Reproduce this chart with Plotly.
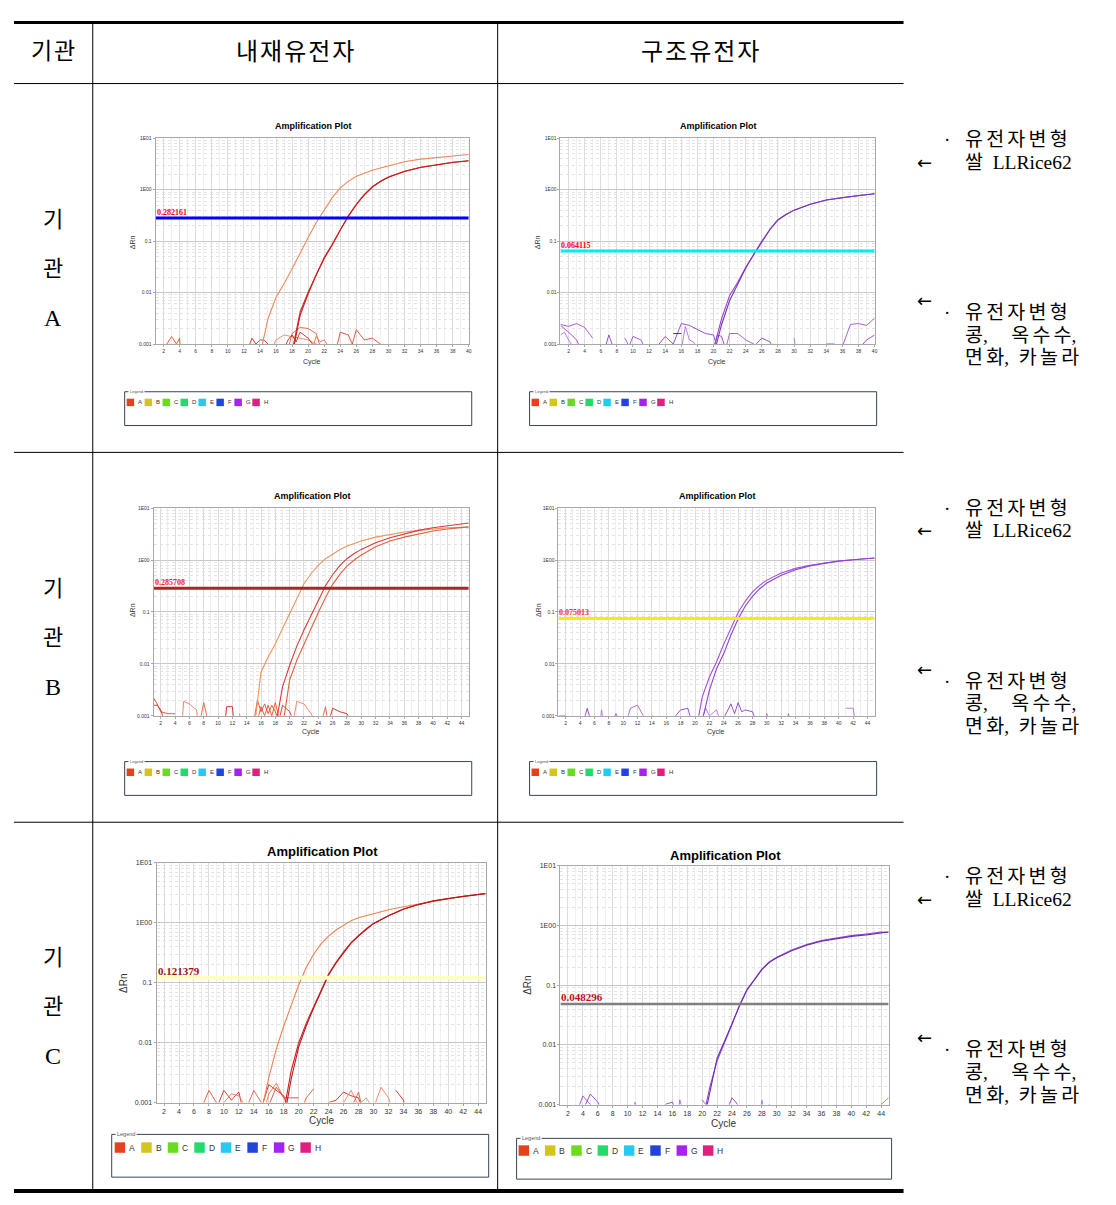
import math
import plotly.graph_objects as go

W, H = 1116, 1205

# ------------------------------------------------------------------ data
# thresholds (text labels in the plots)
A_endo_thr, A_struct_thr = 0.282161, 0.064115
B_endo_thr, B_struct_thr = 0.285708, 0.075013
C_endo_thr, C_struct_thr = 0.121379, 0.048296

# 기관 A - 내재유전자 (cycles 1-40)
A_endo_early_cyc = [14, 15, 16, 17, 18, 19, 20, 21, 22, 23, 24, 25, 26, 27, 28, 29, 30, 32, 34, 36, 38, 40]
A_endo_early_val = [0.0006, 0.0031, 0.0081, 0.0148, 0.029, 0.060, 0.117, 0.228, 0.41, 0.70, 1.08, 1.45,
                    1.82, 2.10, 2.38, 2.63, 2.92, 3.50, 3.93, 4.24, 4.56, 4.84]
A_endo_late_cyc = [18, 19, 20, 21, 22, 23, 24, 25, 26, 27, 28, 29, 30, 32, 34, 36, 38, 40]
A_endo_late1_val = [0.0007, 0.0042, 0.0102, 0.023, 0.048, 0.087, 0.17, 0.31, 0.52, 0.81, 1.14, 1.46,
                    1.77, 2.28, 2.72, 3.06, 3.40, 3.66]
A_endo_late2_val = [0.0006, 0.0036, 0.0095, 0.022, 0.046, 0.084, 0.165, 0.30, 0.51, 0.79, 1.12, 1.44,
                    1.75, 2.26, 2.70, 3.05, 3.38, 3.64]
# 기관 A - 구조유전자
A_struct_cyc = [20, 21, 22, 23, 24, 25, 26, 27, 28, 29, 30, 32, 34, 36, 38, 40]
A_struct1_val = [0.0008, 0.0031, 0.0088, 0.0158, 0.031, 0.056, 0.10, 0.17, 0.26, 0.33, 0.40, 0.52,
                 0.63, 0.70, 0.77, 0.83]
A_struct2_val = [0.0006, 0.0024, 0.0070, 0.0145, 0.030, 0.055, 0.099, 0.168, 0.258, 0.33, 0.40, 0.52,
                 0.63, 0.70, 0.77, 0.83]

# 기관 B - 내재유전자 (cycles 1-45)
B_endo_early_cyc = [15, 16, 17, 18, 19, 20, 21, 22, 23, 24, 25, 26, 27, 28, 30, 32, 34, 36, 38, 40, 42, 45]
B_endo_early_val = [0.0005, 0.0070, 0.0136, 0.0245, 0.048, 0.093, 0.18, 0.35, 0.55, 0.79, 1.06, 1.32,
                    1.58, 1.86, 2.32, 2.76, 3.12, 3.45, 3.72, 3.98, 4.19, 4.30]
B_endo_mid_cyc = [18, 19, 20, 21, 22, 23, 24, 25, 26, 27, 28, 29, 30, 32, 34, 36, 38, 40, 42, 45]
B_endo_mid_val = [0.0006, 0.0036, 0.0094, 0.022, 0.045, 0.088, 0.165, 0.32, 0.52, 0.78, 1.06, 1.33,
                  1.60, 2.15, 2.69, 3.20, 3.72, 4.19, 4.58, 5.15]
B_endo_late_cyc = [19, 20, 21, 22, 23, 24, 25, 26, 27, 28, 29, 30, 32, 34, 36, 38, 40, 42, 45]
B_endo_late_val = [0.0006, 0.0049, 0.0118, 0.0245, 0.051, 0.098, 0.19, 0.34, 0.53, 0.76, 1.00, 1.25,
                   1.80, 2.32, 2.76, 3.20, 3.61, 3.95, 4.35]
# 기관 B - 구조유전자
B_struct_cyc = [20, 21, 22, 23, 24, 25, 26, 27, 28, 29, 30, 32, 34, 36, 38, 40, 42, 45]
B_struct1_val = [0.0004, 0.0023, 0.0056, 0.011, 0.024, 0.047, 0.098, 0.162, 0.243, 0.325, 0.41, 0.56,
                 0.69, 0.79, 0.875, 0.955, 1.01, 1.09]
B_struct2_val = [0.0003, 0.0008, 0.0031, 0.0081, 0.0158, 0.036, 0.073, 0.13, 0.20, 0.28, 0.36, 0.51,
                 0.65, 0.77, 0.86, 0.95, 1.01, 1.09]

# 기관 C - 내재유전자 (cycles 1-45)
C_endo_early_cyc = [15, 16, 17, 18, 19, 20, 21, 22, 23, 24, 25, 26, 27, 28, 30, 32, 34, 36, 38, 40, 42, 45]
C_endo_early_val = [0.0007, 0.0026, 0.0078, 0.019, 0.042, 0.092, 0.18, 0.30, 0.45, 0.60, 0.76, 0.92,
                    1.09, 1.22, 1.44, 1.66, 1.86, 2.06, 2.31, 2.57, 2.79, 3.10]
C_endo_late_cyc = [18, 19, 20, 21, 22, 23, 24, 25, 26, 27, 28, 29, 30, 32, 34, 36, 38, 40, 42, 45]
C_endo_late1_val = [0.0007, 0.0034, 0.010, 0.021, 0.040, 0.075, 0.14, 0.22, 0.33, 0.47, 0.62, 0.79,
                    0.98, 1.32, 1.70, 2.03, 2.33, 2.57, 2.79, 3.10]
C_endo_late2_val = [0.0005, 0.0025, 0.0085, 0.019, 0.038, 0.072, 0.135, 0.215, 0.32, 0.46, 0.61, 0.78,
                    0.97, 1.31, 1.69, 2.02, 2.32, 2.56, 2.78, 3.08]
# 기관 C - 구조유전자
C_struct_cyc = [20, 21, 22, 23, 24, 25, 26, 27, 28, 29, 30, 32, 34, 36, 38, 40, 42, 44, 45]
C_struct1_val = [0.0005, 0.0019, 0.0054, 0.0107, 0.022, 0.046, 0.085, 0.125, 0.186, 0.245, 0.295, 0.39,
                 0.48, 0.56, 0.62, 0.68, 0.725, 0.78, 0.77]
C_struct2_val = [0.0004, 0.0016, 0.0060, 0.0115, 0.023, 0.045, 0.083, 0.122, 0.183, 0.243, 0.29, 0.38,
                 0.47, 0.55, 0.61, 0.66, 0.70, 0.76, 0.78]

# baseline noise segments (cycle list, ΔRn list)
A_endo_noise = [
    ([2, 3, 3.6, 4, 4.1], [0.0008, 0.0014, 0.0010, 0.0013, 0.0006]),
    ([12.5, 13, 13.5, 14, 14.5, 15, 15.5], [0.0008, 0.0013, 0.0010, 0.0012, 0.0012, 0.0010, 0.0007]),
    ([15.5, 16, 17, 18, 19, 20, 21, 22], [0.0008, 0.0012, 0.0015, 0.0014, 0.0013, 0.0012, 0.0010, 0.0007]),
    ([17.5, 18, 19, 20, 21, 21.5], [0.0008, 0.0016, 0.0021, 0.0020, 0.0016, 0.0009]),
    ([17, 17.5, 18, 18.5, 19, 20, 21], [0.0008, 0.0012, 0.0015, 0.0011, 0.0017, 0.0013, 0.0008]),
    ([20.5, 21, 21.5, 22, 23], [0.0008, 0.0014, 0.0011, 0.0012, 0.0007]),
    ([23.5, 24, 25, 25.5, 26, 27, 28, 29], [0.0008, 0.0017, 0.0015, 0.0010, 0.0019, 0.0012, 0.0013, 0.0010]),
]
A_struct_noise = [
    ([1, 2, 3, 4, 5], [0.0024, 0.0022, 0.0025, 0.0021, 0.0013]),
    ([1, 2, 3, 3.5], [0.0023, 0.0017, 0.0012, 0.0008]),
    ([1, 1.5, 2, 3], [0.0015, 0.0017, 0.0012, 0.0007]),
    ([6.5, 7, 7.5], [0.0008, 0.0015, 0.0009]),
    ([9, 9.5, 10, 11, 11.5], [0.0013, 0.0009, 0.0014, 0.0012, 0.0008]),
    ([13, 14, 15, 16, 17, 18, 19, 20, 20.5], [0.0009, 0.0014, 0.0010, 0.0025, 0.0023, 0.0019, 0.0016, 0.0015, 0.0008]),
    ([16, 16.5, 17, 17.5, 18], [0.0008, 0.0022, 0.0012, 0.0011, 0.0008]),
    ([20, 20.5, 21, 21.5], [0.0008, 0.0015, 0.0014, 0.0008]),
    ([21.5, 22, 23, 24, 25, 25.5], [0.0008, 0.0016, 0.0016, 0.0012, 0.0010, 0.0008]),
    ([25, 26, 27, 27.5], [0.0009, 0.0013, 0.0011, 0.0008]),
    ([30, 30.2], [0.0013, 0.0008]),
    ([34, 35, 35.5], [0.0010, 0.0010, 0.0008]),
    ([36, 37, 38, 39, 40], [0.0009, 0.0024, 0.0025, 0.0023, 0.0032]),
    ([38, 39, 40], [0.0008, 0.0012, 0.0015]),
    ([15, 16], [0.0016, 0.0016]),
]
B_endo_noise = [
    ([1, 1.5, 2, 3, 4], [0.0022, 0.0017, 0.0012, 0.0011, 0.0011]),
    ([1, 1.5, 2, 2.5], [0.0016, 0.0016, 0.0013, 0.0008]),
    ([5, 5.2, 6, 7, 7.2], [0.0008, 0.0019, 0.0017, 0.0013, 0.0008]),
    ([7.5, 8, 8.5], [0.0008, 0.0018, 0.0009]),
    ([11, 11.2, 12, 12.2], [0.0008, 0.0015, 0.0015, 0.0008]),
    ([13, 13.2], [0.0011, 0.0008]),
    ([15, 15.5, 16, 16.5, 17, 17.5, 18, 18.5], [0.0008, 0.0020, 0.0012, 0.0017, 0.0011, 0.0016, 0.0012, 0.0008]),
    ([15.5, 16, 16.5, 17, 17.5, 18, 18.5, 19], [0.0008, 0.0015, 0.0010, 0.0016, 0.0010, 0.0018, 0.0009, 0.0008]),
    ([18.5, 19, 20, 20.5], [0.0008, 0.0016, 0.0012, 0.0008]),
    ([20.5, 21, 22, 23, 23.5], [0.0008, 0.0019, 0.0017, 0.0011, 0.0008]),
    ([24.5, 25, 25.3], [0.0008, 0.0015, 0.0008]),
    ([25.5, 26, 27, 28, 28.5], [0.0008, 0.0014, 0.0012, 0.0011, 0.0008]),
]
B_struct_noise = [
    ([1, 2, 2.2], [0.0010, 0.0010, 0.0008]),
    ([4.5, 5, 5.5], [0.0008, 0.0014, 0.0008]),
    ([6.8, 7, 7.2], [0.0008, 0.0013, 0.0008]),
    ([8.5, 9, 9.5], [0.0008, 0.0011, 0.0008]),
    ([10.5, 11, 12, 13], [0.0008, 0.0014, 0.0016, 0.0009]),
    ([14, 15], [0.0010, 0.0009]),
    ([17, 18, 19, 19.5], [0.0009, 0.0013, 0.0014, 0.0008]),
    ([21, 21.5, 22, 23, 23.5], [0.0009, 0.0014, 0.0010, 0.0013, 0.0008]),
    ([24, 25, 25.5, 26, 26.5, 27, 28, 28.5], [0.0009, 0.0017, 0.0011, 0.0018, 0.0012, 0.0013, 0.0012, 0.0008]),
    ([29.8, 30, 30.3], [0.0008, 0.0011, 0.0008]),
    ([32.8, 33, 33.3], [0.0008, 0.0011, 0.0008]),
    ([36, 36.3], [0.0010, 0.0008]),
    ([41, 42, 42.3], [0.0014, 0.0014, 0.0008]),
]
C_endo_noise = [
    ([7, 8, 9, 9.3], [0.0008, 0.0016, 0.0010, 0.0008]),
    ([9, 10, 11, 12, 12.5], [0.0008, 0.0016, 0.0011, 0.0015, 0.0008]),
    ([10, 11, 12, 13], [0.0010, 0.0014, 0.0013, 0.0008]),
    ([13, 14, 15, 15.5], [0.0008, 0.0016, 0.0010, 0.0008]),
    ([15, 16, 17, 18, 18.5], [0.0008, 0.0020, 0.0016, 0.0013, 0.0008]),
    ([15.5, 16, 17, 18, 19], [0.0008, 0.0014, 0.0021, 0.0012, 0.0008]),
    ([16, 17, 17.5, 18, 20], [0.0009, 0.0018, 0.0015, 0.0012, 0.0012]),
    ([20.5, 21, 22], [0.0008, 0.0012, 0.0017]),
    ([24, 25, 26, 27, 28, 28.5], [0.0010, 0.0011, 0.0015, 0.0013, 0.0012, 0.0008]),
    ([26, 27, 28, 29, 30, 31, 32, 32.5], [0.0010, 0.0016, 0.0009, 0.0012, 0.0008, 0.0018, 0.0012, 0.0008]),
    ([27, 28, 28.5], [0.0008, 0.0015, 0.0008]),
    ([33, 34, 34.3], [0.0016, 0.0011, 0.0008]),
]
C_struct_noise = [
    ([3.3, 4, 5, 6, 6.5], [0.0008, 0.0014, 0.0010, 0.0008, 0.0007]),
    ([4, 5, 6, 6.5], [0.0008, 0.0015, 0.0011, 0.0008]),
    ([10.8, 11, 11.3], [0.0008, 0.0011, 0.0008]),
    ([15, 16, 16.5], [0.0010, 0.0011, 0.0008]),
    ([16.8, 17, 17.4], [0.0008, 0.0012, 0.0008]),
    ([20, 20.5, 21], [0.0012, 0.0010, 0.0009]),
    ([23.5, 24, 24.5, 25], [0.0009, 0.0013, 0.0011, 0.0009]),
    ([27.8, 28, 28.3], [0.0008, 0.0012, 0.0008]),
    ([28.8, 29, 29.2], [0.0008, 0.0010, 0.0008]),
    ([44, 45], [0.0010, 0.0013]),
]

legend_letters = ["A", "B", "C", "D", "E", "F", "G", "H"]
legend_colors = ["#E8401C", "#D6C41E", "#6BDB1F", "#22DB6A", "#22CCEE", "#2244DD", "#A622EE", "#E21E7E"]

ytick_vals = [0.001, 0.01, 0.1, 1, 10]
ytick_text = ["0.001", "0.01", "0.1", "1E00", "1E01"]

row_labels = ["A", "B", "C"]

# ------------------------------------------------------------------ helpers
KR = "Liberation Serif, Noto Sans CJK KR"
SANS = "Liberation Sans, Arial, sans-serif"
HS = "\u200a"    # hair space used as letter spacing
SS = "\u2006"    # six-per-em space used as letter spacing for the notes

annotations, shapes = [], []


def fx(x):
    return x / W


def fy(y):
    return 1 - y / H


def spaced(s, sep=HS):
    return sep.join(s)


def text(x, y, s, size, family=KR, color="black", xanchor="center", yanchor="middle", angle=0, bg=None,
         pad=1):
    a = dict(x=fx(x), y=fy(y), xref="paper", yref="paper", text=s, showarrow=False,
             font=dict(size=size, family=family, color=color), xanchor=xanchor, yanchor=yanchor,
             textangle=angle, borderpad=pad)
    if bg:
        a["bgcolor"] = bg
    annotations.append(a)


def hline(x0, x1, y, w=1, color="black"):
    shapes.append(dict(type="line", xref="paper", yref="paper", x0=fx(x0), x1=fx(x1), y0=fy(y), y1=fy(y),
                       line=dict(color=color, width=w)))


def vline(x, y0, y1, w=1, color="black"):
    shapes.append(dict(type="line", xref="paper", yref="paper", x0=fx(x), x1=fx(x), y0=fy(y0), y1=fy(y1),
                       line=dict(color=color, width=w)))


def rect(x0, y0, x1, y1, line=None, fill=None, lw=1):
    shapes.append(dict(type="rect", xref="paper", yref="paper", x0=fx(x0), x1=fx(x1), y0=fy(y1), y1=fy(y0),
                       line=dict(color=line or "rgba(0,0,0,0)", width=lw if line else 0),
                       fillcolor=fill or "rgba(0,0,0,0)"))


fig = go.Figure()

endo_noise_colors = ["#E8502A", "#D03020", "#F08060", "#E06040", "#C82818", "#EE7048", "#D84830"]
struct_noise_colors = ["#A050D0", "#9040C8", "#B070E0", "#8C3CC0", "#A860D8"]

panels = [
    dict(rect=(156, 135, 470, 342), xmax=40, title_y=123, tfs=9, tick=5, lab=7,
         curves=[(A_endo_early_cyc, A_endo_early_val, "#F2875A"),
                 (A_endo_late_cyc, A_endo_late1_val, "#D42828"),
                 (A_endo_late_cyc, A_endo_late2_val, "#C81E1E")],
         noise=A_endo_noise, ncol=endo_noise_colors,
         thr=A_endo_thr, thr_col="#0000FF", thr_w=3, thr_lab="#FF0000", thr_fs=8,
         ylab=(133, 240), xlab=(313, 360)),
    dict(rect=(562, 135, 877, 342), xmax=40, title_y=123, tfs=9, tick=5, lab=7,
         curves=[(A_struct_cyc, A_struct1_val, "#9B45D6"),
                 (A_struct_cyc, A_struct2_val, "#7A34B8")],
         noise=A_struct_noise, ncol=struct_noise_colors[:4] * 4,
         thr=A_struct_thr, thr_col="#00F0F0", thr_w=3, thr_lab="#FF0000", thr_fs=8,
         ylab=(539, 240), xlab=(719, 360)),
    dict(rect=(154, 507, 470, 716), xmax=45, title_y=495, tfs=9, tick=5, lab=7,
         curves=[(B_endo_early_cyc, B_endo_early_val, "#F0935A"),
                 (B_endo_mid_cyc, B_endo_mid_val, "#D83A3A"),
                 (B_endo_late_cyc, B_endo_late_val, "#E0603E")],
         noise=B_endo_noise, ncol=endo_noise_colors * 2,
         thr=B_endo_thr, thr_col="#B22222", thr_w=3, thr_lab="#FF2020", thr_fs=8,
         ylab=(133, 610), xlab=(312, 732)),
    dict(rect=(560, 507, 877, 716), xmax=45, title_y=495, tfs=9, tick=5, lab=7,
         curves=[(B_struct_cyc, B_struct1_val, "#A04FDC"),
                 (B_struct_cyc, B_struct2_val, "#9240D0")],
         noise=B_struct_noise, ncol=struct_noise_colors * 3,
         thr=B_struct_thr, thr_col="#F0F000", thr_w=3, thr_lab="#FF3030", thr_fs=8,
         ylab=(540, 610), xlab=(718, 732)),
    dict(rect=(157, 864, 487, 1105), xmax=45, title_y=852, tfs=13, tick=7, lab=10,
         curves=[(C_endo_early_cyc, C_endo_early_val, "#F0804E"),
                 (C_endo_late_cyc, C_endo_late1_val, "#D02020"),
                 (C_endo_late_cyc, C_endo_late2_val, "#B81818")],
         noise=C_endo_noise, ncol=endo_noise_colors * 2,
         thr=C_endo_thr, thr_col="#FFFFC0", thr_w=4, thr_lab="#A01010", thr_fs=11,
         ylab=(124, 985), xlab=(322, 1123)),
    dict(rect=(562, 867, 891, 1107), xmax=45, title_y=856, tfs=13, tick=7, lab=10,
         curves=[(C_struct_cyc, C_struct1_val, "#9B45D6"),
                 (C_struct_cyc, C_struct2_val, "#6A30B0")],
         noise=C_struct_noise, ncol=struct_noise_colors * 2,
         thr=C_struct_thr, thr_col="#808080", thr_w=2.5, thr_lab="#C01020", thr_fs=11,
         ylab=(529, 987), xlab=(725, 1126)),
]

legend_boxes = [
    dict(box=(125, 390, 473, 424), sq=(127, 397), size=7.5, step=18, fs=6, lfs=4),
    dict(box=(531, 390, 879, 424), sq=(533, 397), size=7.5, step=18, fs=6, lfs=4),
    dict(box=(125, 762, 473, 796), sq=(127, 769), size=7.5, step=18, fs=6, lfs=4),
    dict(box=(531, 762, 879, 796), sq=(533, 769), size=7.5, step=18, fs=6, lfs=4),
    dict(box=(112, 1137, 490, 1180), sq=(115, 1145), size=10.5, step=26.6, fs=8.5, lfs=5.5),
    dict(box=(518, 1141, 894, 1182), sq=(520, 1148), size=10.5, step=26.4, fs=8.5, lfs=5.5),
]

minor_y = [k * 10.0 ** e for e in (-3, -2, -1, 0) for k in range(2, 10)]

for i, p in enumerate(panels, start=1):
    xr = "x" if i == 1 else f"x{i}"
    yr = "y" if i == 1 else f"y{i}"
    xname = "xaxis" if i == 1 else f"xaxis{i}"
    yname = "yaxis" if i == 1 else f"yaxis{i}"
    x0, y0, x1, y1 = p["rect"]
    xmax = p["xmax"]
    fig.layout[xname] = dict(
        domain=[fx(x0), fx(x1)], anchor=yr, range=[1, xmax],
        tickmode="linear", tick0=2, dtick=2,
        showgrid=True, gridcolor="#DDDDDD", gridwidth=1,
        minor=dict(tickvals=list(range(1, xmax + 1, 2)), showgrid=True, gridcolor="#EFEFEF", ticks=""),
        showline=True, mirror=True, linecolor="#A8A8A8", linewidth=1,
        ticks="outside", ticklen=2, tickcolor="#A8A8A8",
        tickfont=dict(size=p["tick"], family=SANS, color="#333333"),
        zeroline=False, fixedrange=True)
    fig.layout[yname] = dict(
        domain=[fy(y1), fy(y0)], anchor=xr, type="log", range=[-3, 1],
        tickmode="array", tickvals=ytick_vals, ticktext=ytick_text,
        showgrid=True, gridcolor="#C8C8C8", gridwidth=1,
        minor=dict(tickvals=minor_y, showgrid=True, gridcolor="#E4E4E4", griddash="dot", ticks=""),
        showline=True, mirror=True, linecolor="#A8A8A8", linewidth=1,
        ticks="outside", ticklen=2, tickcolor="#A8A8A8",
        tickfont=dict(size=p["tick"], family=SANS, color="#333333"),
        zeroline=False, fixedrange=True)

    for k, (nx, ny) in enumerate(p["noise"]):
        col = p["ncol"][k % len(p["ncol"])]
        if i == 2 and k == len(p["noise"]) - 1:
            col = "#4A1A90"
        fig.add_trace(go.Scatter(x=nx, y=ny, mode="lines", line=dict(color=col, width=0.9),
                                 xaxis=xr, yaxis=yr, showlegend=False, hoverinfo="skip"))
    for cx, cy, col in p["curves"]:
        fig.add_trace(go.Scatter(x=cx, y=cy, mode="lines", line=dict(color=col, width=1.1),
                                 xaxis=xr, yaxis=yr, showlegend=False, hoverinfo="skip"))
    fig.add_trace(go.Scatter(x=[1, xmax], y=[p["thr"], p["thr"]], mode="lines",
                             line=dict(color=p["thr_col"], width=p["thr_w"]),
                             xaxis=xr, yaxis=yr, showlegend=False, hoverinfo="skip"))
    annotations.append(dict(x=1, y=math.log10(p["thr"]), xref=xr, yref=yr, text=f"<b>{p['thr']:.6f}</b>",
                            showarrow=False, xanchor="left", yanchor="bottom", yshift=-1, xshift=-1,
                            font=dict(size=p["thr_fs"], family="Liberation Serif", color=p["thr_lab"])))
    # title & axis labels
    text((x0 + x1) / 2 + 1, p["title_y"], "<b>Amplification Plot</b>", p["tfs"], family=SANS)
    text(p["xlab"][0], p["xlab"][1], "Cycle", p["lab"], family=SANS, color="#333333")
    text(p["ylab"][0], p["ylab"][1], "ΔRn", p["lab"], family=SANS, color="#333333", angle=-90)

# legends
for lb in legend_boxes:
    bx0, by0, bx1, by1 = lb["box"]
    rect(bx0, by0, bx1, by1, line="#34465A", lw=1)
    text(bx0 + 3, by0, "Legend", lb["lfs"], family=SANS, color="#555555", xanchor="left", bg="white")
    sx, sy = lb["sq"]
    for j, (lt, col) in enumerate(zip(legend_letters, legend_colors)):
        x = sx + j * lb["step"]
        rect(x, sy, x + lb["size"], sy + lb["size"], fill=col)
        text(x + lb["size"] + 2, sy + lb["size"] / 2, lt, lb["fs"], family=SANS, color="#333333",
             xanchor="left")

# table lines
hline(14, 906, 18.5, w=3)
hline(14, 906, 80, w=1)
hline(14, 906, 451, w=1)
hline(14, 906, 823, w=1)
hline(14, 906, 1194, w=4)
vline(93, 18, 1194)
vline(499, 18, 1194)

# headers
text(53, 48, spaced("기관"), 23)
text(296, 48, spaced("내재유전자"), 24)
text(702, 48, spaced("구조유전자"), 24)

# row labels and right-hand notes
NOTE = 19.5
for r, lab in enumerate(row_labels):
    off = [0, 371, 742][r]
    text(53, 217 + off, "기", 22)
    text(53, 266 + off, "관", 22)
    text(53, 316 + off, lab, 24)
    text(950, 136 + off, "·", 19, pad=0)
    text(967, 136 + off, spaced("유전자변형", SS), NOTE, xanchor="left", pad=0)
    text(927, 159 + off, "←", 18, family="DejaVu Sans", pad=0)
    text(967, 159 + off, "쌀\u2002LLRice62", NOTE, xanchor="left", pad=0)
    text(927, 298 + off, "←", 18, family="DejaVu Sans", pad=0)
    text(950, 310 + off, "·", 19, pad=0)
    text(967, 310 + off, spaced("유전자변형", SS), NOTE, xanchor="left", pad=0)
    text(967, 333 + off, "콩,\u2003\u2009" + spaced("옥수수", SS) + ",", NOTE, xanchor="left", pad=0)
    text(967, 356 + off, spaced("면화", SS) + ",\u2002" + spaced("카놀라", SS), NOTE, xanchor="left", pad=0)

fig.update_layout(width=W, height=H, margin=dict(l=0, r=0, t=0, b=0),
                  paper_bgcolor="white", plot_bgcolor="white", showlegend=False,
                  annotations=annotations, shapes=shapes)

fig.write_html("out.html")
